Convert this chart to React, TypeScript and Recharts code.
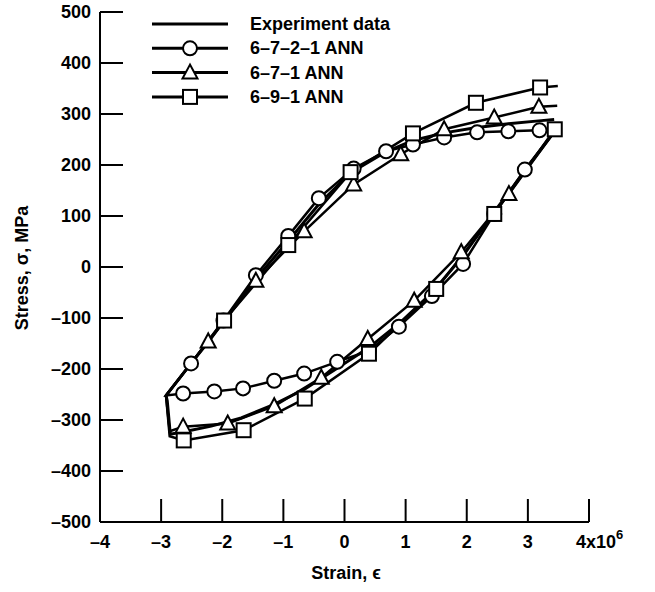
import { LineChart, Line, XAxis, YAxis } from "recharts";

const FONT = "'Liberation Sans', Arial, Helvetica, sans-serif";

// axis ticks
const xTicks = [-4, -3, -2, -1, 0, 1, 2, 3, 4];
const yTicks = [500, 400, 300, 200, 100, 0, -100, -200, -300, -400, -500];

// strain (x1e6) vs stress (MPa), each path runs: right end -> lower branch -> left corner -> upper branch
const experiment: [number, number][] = [
  [3.45, 268], [2.97, 192], [2.45, 108], [1.94, 22], [1.45, -48], [0.92, -108],
  [0.4, -158], [-0.14, -200], [-0.66, -240], [-1.2, -272], [-1.69, -296],
  [-2.18, -312], [-2.59, -322], [-2.85, -328], [-2.9, -262], [-2.92, -252],
  [-2.51, -189], [-2.22, -146], [-1.97, -105], [-1.45, -23], [-0.92, 51],
  [-0.42, 123], [0.1, 185], [0.68, 226], [1.12, 248], [1.63, 263],
  [2.14, 273], [2.68, 281], [3.22, 287], [3.43, 289],
];

const ann7221: [number, number][] = [
  [3.45, 268], [2.95, 191], [2.45, 104], [1.94, 6], [1.43, -57], [0.89, -117],
  [0.4, -164], [-0.12, -186], [-0.66, -209], [-1.15, -223], [-1.66, -238],
  [-2.13, -244], [-2.64, -248], [-2.92, -252], [-2.51, -189], [-1.98, -105],
  [-1.45, -16], [-0.92, 61], [-0.42, 135], [0.15, 193], [0.68, 227],
  [1.12, 240], [1.63, 254], [2.17, 264], [2.68, 266], [3.19, 268],
];

const ann671: [number, number][] = [
  [3.45, 268], [2.69, 143], [1.91, 29], [1.14, -66], [0.38, -141], [-0.38, -217],
  [-1.15, -273], [-1.91, -307], [-2.64, -313], [-2.86, -322], [-2.92, -252],
  [-2.23, -146], [-1.45, -27], [-0.66, 70], [0.15, 162], [0.92, 221],
  [1.63, 270], [2.45, 293], [3.18, 314], [3.48, 316],
];

const ann691: [number, number][] = [
  [3.44, 270], [2.45, 104], [1.5, -43], [0.4, -170], [-0.65, -258], [-1.65, -320],
  [-2.63, -340], [-2.86, -332], [-2.92, -252], [-1.97, -105], [-0.92, 43],
  [0.1, 186], [1.12, 262], [2.15, 322], [3.2, 352], [3.49, 355],
];

// path points that carry no marker (ends and corner of the loop)
const bare7221 = [0, 13];
const bare671 = [0, 9, 10, 19];
const bare691 = [7, 8, 15];

const legendItems = ["Experiment data", "6–7–2–1 ANN", "6–7–1 ANN", "6–9–1 ANN"];

const toRows = (pts: [number, number][]) => pts.map(([x, y]) => ({ x, y }));

const fmt = (v: number) => (v < 0 ? `–${-v}` : `${v}`);

function Marker({ kind, cx, cy }: { kind: string; cx: number; cy: number }) {
  const common = { fill: "#fff", stroke: "#000", strokeWidth: 2 };
  if (kind === "circle") return <circle cx={cx} cy={cy} r={7} {...common} />;
  if (kind === "triangle")
    return <polygon points={`${cx},${cy - 8} ${cx - 7.5},${cy + 6} ${cx + 7.5},${cy + 6}`} {...common} />;
  if (kind === "square") return <rect x={cx - 7} y={cy - 7} width={14} height={14} {...common} />;
  return null;
}

const dotFor = (kind: string, bare: number[]) => (p: any) => {
  if (bare.includes(p.index) || p.cx == null) return <g key={`d-${kind}-${p.index}`} />;
  return (
    <g key={`d-${kind}-${p.index}`}>
      <Marker kind={kind} cx={p.cx} cy={p.cy} />
    </g>
  );
};

function YTick(props: any) {
  const { x, y, payload } = props;
  return (
    <g>
      <line x1={x} y1={y} x2={x + 23} y2={y} stroke="#000" strokeWidth={2} />
      <text
        x={x - 9}
        y={y}
        textAnchor="end"
        dominantBaseline="central"
        fontFamily={FONT}
        fontWeight="bold"
        fontSize={18}
        fill="#000"
      >
        {fmt(payload.value)}
      </text>
    </g>
  );
}

function XTick(props: any) {
  const { x, y, payload } = props;
  const v = payload.value;
  return (
    <g>
      <line x1={x} y1={y} x2={x} y2={y - 23} stroke="#000" strokeWidth={2} />
      {v === 4 ? (
        <text x={x - 13} y={y + 26} fontFamily={FONT} fontWeight="bold" fontSize={18} fill="#000">
          4x10
          <tspan dy={-9} fontSize={13}>
            6
          </tspan>
        </text>
      ) : (
        <text x={x} y={y + 26} textAnchor="middle" fontFamily={FONT} fontWeight="bold" fontSize={18} fill="#000">
          {fmt(v)}
        </text>
      )}
    </g>
  );
}

export default function App() {
  const kinds = ["none", "circle", "triangle", "square"];
  return (
    <div style={{ position: "absolute", left: 0, top: 0, width: 655, height: 592, background: "#fff" }}>
      <LineChart width={655} height={592} margin={{ top: 12, right: 66, bottom: 40, left: 40 }}>
        <XAxis
          type="number"
          dataKey="x"
          domain={[-4, 4]}
          ticks={xTicks}
          interval={0}
          tickSize={0}
          tickMargin={0}
          tickLine={false}
          axisLine={{ stroke: "#000", strokeWidth: 2 }}
          tick={<XTick />}
          height={30}
        />
        <YAxis
          type="number"
          dataKey="y"
          domain={[-500, 500]}
          ticks={yTicks}
          interval={0}
          tickSize={0}
          tickMargin={0}
          tickLine={false}
          axisLine={{ stroke: "#000", strokeWidth: 2 }}
          tick={<YTick />}
          width={60}
        />
        <Line
          data={toRows(experiment)}
          dataKey="y"
          type="linear"
          stroke="#000"
          strokeWidth={3}
          dot={false}
          isAnimationActive={false}
        />
        <Line
          data={toRows(ann7221)}
          dataKey="y"
          type="linear"
          stroke="#000"
          strokeWidth={2.5}
          dot={dotFor("circle", bare7221)}
          isAnimationActive={false}
        />
        <Line
          data={toRows(ann671)}
          dataKey="y"
          type="linear"
          stroke="#000"
          strokeWidth={2.5}
          dot={dotFor("triangle", bare671)}
          isAnimationActive={false}
        />
        <Line
          data={toRows(ann691)}
          dataKey="y"
          type="linear"
          stroke="#000"
          strokeWidth={2.5}
          dot={dotFor("square", bare691)}
          isAnimationActive={false}
        />
      </LineChart>

      {/* legend and axis titles */}
      <svg
        width={655}
        height={592}
        style={{ position: "absolute", left: 0, top: 0, pointerEvents: "none" }}
        fontFamily={FONT}
        fontWeight="bold"
        fontSize={18}
      >
        {legendItems.map((name, i) => {
          const y = 24 + i * 24.3;
          return (
            <g key={name}>
              <line x1={152} y1={y} x2={228} y2={y} stroke="#000" strokeWidth={3} />
              <Marker kind={kinds[i]} cx={190} cy={y} />
              <text x={250} y={y} dominantBaseline="central" fill="#000">
                {name}
              </text>
            </g>
          );
        })}
        <text x={346} y={579} textAnchor="middle" fill="#000">
          Strain, ϵ
        </text>
        <text
          transform="translate(22, 268) rotate(-90)"
          textAnchor="middle"
          dominantBaseline="central"
          fill="#000"
        >
          Stress, σ, MPa
        </text>
      </svg>
    </div>
  );
}
